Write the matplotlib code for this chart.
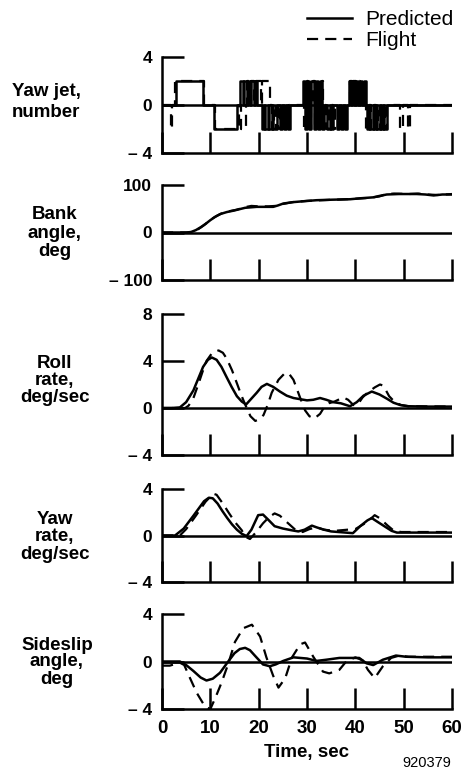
import matplotlib
matplotlib.use("Agg")
import matplotlib.pyplot as plt

plt.rcParams['font.family'] = ['Liberation Sans', 'DejaVu Sans']

# ---------------- data ----------------
time_ticks = [0, 10, 20, 30, 40, 50, 60]
time_labels = ["0", "10", "20", "30", "40", "50", "60"]

# Yaw jet (step data: time, level)
jet_pred_t = [0, 2.9, 8.4, 10.7, 15.5,
              16.2, 16.8, 17.0, 17.5, 17.7, 18.3, 18.5, 19.1, 19.3, 19.6,
              20.6, 21.2, 21.4, 22.0, 22.2, 22.8, 23.0, 23.8,
              24.4, 24.8, 25.2, 25.6, 26.0, 26.5,
              29.1, 29.6, 30.0, 30.5, 30.9, 31.4, 31.8, 32.3, 32.7, 33.2, 33.6,
              34.2, 34.7, 35.0, 35.4, 36.2, 36.6, 37.0, 37.5, 37.8, 38.3,
              38.6, 39.1, 39.3, 39.8, 40.1, 40.5, 41.0, 41.4, 41.8, 42.2,
              42.4, 42.9, 43.1, 43.6, 43.8, 44.3, 44.5, 45.0, 45.3, 45.7, 46.0, 46.5, 60]
jet_pred_v = [0, 2, 0, -2, 0,
              2, 0, 2, 0, 2, 0, 2, 0, 2, 0,
              -2, 0, -2, 0, -2, 0, -2, 0,
              -2, 0, -2, 0, -2, 0,
              2, -2, 2, -2, 2, -2, 2, -2, 2, -2, 0,
              -2, 0, -2, 0, -2, 0, -2, 0, -2, 0,
              2, 0, 2, 0, 2, 0, 2, 0, 2, 0,
              -2, 0, -2, 0, -2, 0, -2, 0, -2, 0, -2, 0, 0]
jet_flt_t = [0, 1.8, 2.1, 2.7, 8.7, 10.9, 16.0, 16.3, 17.3,
             17.5, 18.0, 18.4, 19.0, 19.4, 20.4, 20.6, 22.4,
             22.7, 23.2, 23.5, 24.0, 24.5, 25.0, 25.6, 26.3,
             29.4, 29.9, 30.3, 30.8, 31.2, 31.6, 32.1, 32.4, 33.0, 33.4,
             34.0, 34.5, 35.3, 35.8, 36.4, 36.9, 37.4, 38.0,
             38.8, 39.3, 39.6, 40.2, 40.4, 40.9, 41.3, 42.0,
             42.3, 42.8, 43.3, 43.9, 44.2, 44.7, 45.0, 45.6, 46.2, 46.6,
             49.3, 49.8, 50.8, 51.3, 60]
jet_flt_v = [0, -2, 0, 2, 0, -2, 0, -2, 0,
             2, 0, 2, 0, 2, 0, 2, 0,
             -2, 0, -2, 0, -2, 0, -2, 0,
             -2, 2, -2, 0, 2, -2, 0, -2, 2, 0,
             -2, 0, -2, 0, -2, 0, -2, 0,
             2, 0, 2, 0, 2, 0, 2, 0,
             -2, 0, -2, 0, -2, 0, -2, 0, -2, 0,
             -2, 0, -2, 0, 0]

# Bank angle, deg
bank_pred_t = [0, 5, 6, 7, 8, 9, 10, 11, 12.1, 13.4, 14.8, 16, 17.2, 19.6, 21.5, 23, 24,
               25.1, 27.2, 29.5, 32, 35, 38.9, 41, 43.7, 45, 46.5, 49, 52.7, 54.5, 56.2, 58, 60]
bank_pred_v = [0, 0, 1, 5, 11, 18, 26, 33, 39, 43, 46, 49, 52, 54, 54, 54, 57,
               61, 64, 66, 68, 69, 70, 72, 74, 77, 80, 81, 81, 80, 78, 80, 80]
bank_flt_t = [0, 5.5, 6.5, 7.5, 8.5, 9.5, 10.5, 11.5, 12.5, 14, 15.5, 17, 18.5, 20, 22, 23.5,
              25, 27, 30, 33, 37, 40, 43, 45, 46.5, 48, 51, 53, 55, 57, 60]
bank_flt_v = [0, 0, 2, 7, 14, 22, 30, 36, 41, 45, 48, 53, 56, 55, 55, 56,
              60, 64, 66.5, 68, 69.5, 71, 73, 76, 81, 82, 81, 82, 80, 79, 81]

# Roll rate, deg/sec
roll_pred_t = [0, 2, 3.7, 5, 6.5, 7.5, 8.5, 9.5, 10.3, 11.3, 12.3, 13.4, 14.4, 15.5, 16.5, 17.4,
               18.5, 19.6, 20.6, 21.7, 23, 24.4, 25.8, 27.2, 28.6, 30, 31.3, 32.7, 34, 35.4,
               37, 38.9, 40.3, 41.7, 43.4, 45, 46.5, 47.9, 49.3, 51, 55, 60]
roll_pred_v = [0, 0, 0.05, 0.5, 1.5, 2.5, 3.5, 4.1, 4.3, 4.1, 3.5, 2.6, 1.8, 1.0, 0.55, 0.3,
               0.8, 1.3, 1.8, 2.05, 1.8, 1.4, 1.05, 0.85, 0.75, 0.65, 0.7, 0.85, 0.7, 0.5,
               0.4, 0.15, 0.5, 1.05, 1.4, 1.15, 0.8, 0.45, 0.25, 0.15, 0.12, 0.12]
roll_flt_t = [0, 4.8, 5.5, 6.5, 7.5, 8.4, 9.2, 10.4, 11.7, 12.6, 13.4, 14.5, 15.5, 16.4, 17.2,
              18.3, 19.3, 20.2, 21, 21.9, 22.7, 24.1, 25.5, 26.4, 27.2, 28.6, 29.6, 30.5,
              31.5, 32.7, 33.6, 34.5, 35.7, 37.5, 38.5, 39.6, 40.5, 41.5, 42.5, 44, 45.1,
              45.8, 47, 48.3, 49.5, 51, 60]
roll_flt_v = [0, 0, 0.2, 0.85, 2.0, 3.1, 4.0, 4.7, 4.9, 4.7, 4.2, 3.2, 2.1, 1.1, 0.3,
              -0.7, -1.1, -0.95, -0.6, 0.3, 1.3, 2.4, 3.0, 2.85, 2.4, 0.85, -0.2, -0.7,
              -0.9, -0.5, 0.1, 0.4, 0.55, 0.9, 0.7, 0.25, 0.3, 0.9, 1.3, 1.75, 2.0,
              1.9, 1.0, 0.45, 0.25, 0.15, 0.12]

# Yaw rate, deg/sec
yaw_pred_t = [0, 2.7, 4.5, 6.5, 8.7, 9.7, 10.5, 11.5, 12.5, 13.5, 14.5, 15.5, 16.5, 17.5,
              18.5, 19.9, 20.9, 22, 23.3, 25, 26.8, 28.2, 29.5, 31, 32, 33.5, 35, 36.5,
              38, 39.5, 41, 42.5, 43.4, 44.5, 46, 47.5, 48.6, 50, 55, 60]
yaw_pred_v = [0, 0, 0.6, 1.7, 2.95, 3.25, 3.2, 2.75, 2.1, 1.5, 0.95, 0.5, 0.15, -0.05,
              0.5, 1.75, 1.8, 1.35, 0.8, 0.6, 0.45, 0.35, 0.5, 0.85, 0.7, 0.5, 0.35, 0.3,
              0.25, 0.2, 0.8, 1.3, 1.5, 1.2, 0.8, 0.4, 0.25, 0.25, 0.25, 0.25]
yaw_flt_t = [0, 3.7, 5, 7, 9, 10.6, 11.3, 12.5, 13.9, 15.2, 16.5, 17.2, 18.2, 19.5, 20.9,
             22.2, 23.3, 24.4, 25.7, 27.7, 29.1, 30.5, 32, 33.5, 35.7, 38.4, 40, 41.2,
             42.6, 44, 45, 46.7, 48, 49.5, 60]
yaw_flt_v = [0, 0, 0.55, 1.7, 2.9, 3.6, 3.5, 2.8, 1.9, 1.1, 0.45, -0.1, -0.3, 0.3, 1.05,
             1.6, 1.9, 1.7, 1.2, 0.45, 0.3, 0.55, 0.7, 0.5, 0.4, 0.5, 0.55, 0.85,
             1.2, 1.75, 1.5, 0.85, 0.4, 0.3, 0.3]

# Sideslip angle, deg
slip_pred_t = [0, 3.7, 5, 6.5, 8, 9.2, 10.5, 12, 13.7, 15, 16.1, 17.2, 18.2, 19.2, 20.9,
               22.3, 23.5, 25.1, 27.2, 28.6, 30, 32, 34, 36.7, 40.8, 42.3, 43.7, 45.7,
               48.4, 50.5, 55, 60]
slip_pred_v = [0, 0, -0.3, -0.8, -1.35, -1.6, -1.45, -0.95, 0, 0.7, 1.05, 1.15, 0.95, 0.5,
               -0.25, -0.4, -0.25, 0.05, 0.35, 0.3, 0.25, 0.05, 0.15, 0.3, 0.3, -0.15, -0.3,
               0.15, 0.5, 0.4, 0.35, 0.35]
slip_flt_t = [0, 1.6, 3.7, 4.6, 5.8, 7.2, 8.9, 10, 11, 12.3, 13.7, 15.1, 16.8, 18.6, 20.3,
              21.6, 23, 24.1, 25.5, 26.9, 28.6, 29.6, 31.3, 33.3, 34.6, 36.7, 38.1, 40,
              41.5, 42.6, 44, 45.7, 47.4, 49.1, 51, 60]
slip_flt_v = [-0.35, -0.35, -0.1, -0.3, -1.4, -2.65, -3.8, -4.0, -3.1, -1.8, -0.2, 1.65,
              2.8, 3.1, 2.1, 0.35, -1.2, -2.2, -1.4, 0.35, 1.45, 1.6, 0.4, -0.85, -1.0,
              -0.7, 0.0, 0.35, 0.1, -0.7, -1.4, -0.4, 0.3, 0.5, 0.4, 0.4]

panel_names = ["Yaw jet,\nnumber", "Bank\nangle,\ndeg", "Roll\nrate,\ndeg/sec",
               "Yaw\nrate,\ndeg/sec", "Sideslip\nangle,\ndeg"]
panel_ylims = [(-4, 4), (-100, 100), (-4, 8), (-4, 4), (-4, 4)]
panel_yticks = [[-4, 0, 4], [-100, 0, 100], [-4, 0, 4, 8], [-4, 0, 4], [-4, 0, 4]]
panel_yticklabels = [["\u2013 4", "0", "4"], ["\u2013 100", "0", "100"],
                     ["\u2013 4", "0", "4", "8"], ["\u2013 4", "0", "4"], ["\u2013 4", "0", "4"]]

pred_series = [(jet_pred_t, jet_pred_v), (bank_pred_t, bank_pred_v), (roll_pred_t, roll_pred_v),
               (yaw_pred_t, yaw_pred_v), (slip_pred_t, slip_pred_v)]
flt_series = [(jet_flt_t, jet_flt_v), (bank_flt_t, bank_flt_v), (roll_flt_t, roll_flt_v),
              (yaw_flt_t, yaw_flt_v), (slip_flt_t, slip_flt_v)]

# ---------------- layout ----------------
FW, FH = 468, 769
fig = plt.figure(figsize=(FW / 100, FH / 100), dpi=100)

left_px, right_px = 162, 452
panel_px = [(57, 153), (185, 280), (314, 455), (489, 582), (614, 709)]
label_pos = [(46, 102), (55, 233), (55, 381), (55, 537), (57, 662)]
label_spacing = [1.25, 1.1, 1.0, 1.05, 1.0]

LW = 1.8
handles = None
for i in range(5):
    top, bot = panel_px[i]
    ax = fig.add_axes([left_px / FW, 1 - bot / FH, (right_px - left_px) / FW, (bot - top) / FH])
    ax.set_xlim(0, 60)
    ax.set_ylim(*panel_ylims[i])
    for s in ("top", "right"):
        ax.spines[s].set_visible(False)
    for s in ("left", "bottom"):
        ax.spines[s].set_linewidth(LW)
    ax.axhline(0, color="black", lw=LW, zorder=1.5)
    pt, pv = pred_series[i]
    ft, fv = flt_series[i]
    ds = "steps-post" if i == 0 else "default"
    l1, = ax.plot(pt, pv, color="black", lw=LW, drawstyle=ds, label="Predicted",
                  solid_joinstyle="round", zorder=3)
    l2, = ax.plot(ft, fv, color="black", lw=1.6, drawstyle=ds, linestyle=(0, (5, 3.2)),
                  label="Flight", zorder=3)
    if handles is None:
        handles = [l1, l2]
    ax.set_yticks(panel_yticks[i])
    ax.set_yticklabels(panel_yticklabels[i], fontsize=12.5, fontweight="bold")
    ax.set_xticks(time_ticks)
    ax.tick_params(axis="y", direction="in", length=16, width=LW, pad=7)
    ax.tick_params(axis="x", direction="in", length=15, width=LW, pad=8)
    if i == 4:
        ax.set_xticklabels(time_labels, fontsize=13.5, fontweight="bold")
    else:
        ax.tick_params(axis="x", labelbottom=False)
    lx, ly = label_pos[i]
    fig.text(lx / FW, 1 - ly / FH, panel_names[i], ha="center", va="center",
             fontsize=13.5, fontweight="bold", linespacing=label_spacing[i])

fig.text(307 / FW, 1 - 752 / FH, "Time, sec", ha="center", va="center",
         fontsize=13.5, fontweight="bold")
fig.text(427 / FW, 1 - 763 / FH, "920379", ha="center", va="center", fontsize=10.5)

fig.legend(handles, ["Predicted", "Flight"], loc="upper left",
           bbox_to_anchor=(307 / FW, 1 - 10 / FH), frameon=False, fontsize=15,
           handlelength=2.15, handletextpad=0.65, labelspacing=0.1, borderpad=0,
           borderaxespad=0)

fig.savefig("out.png", dpi=100)
